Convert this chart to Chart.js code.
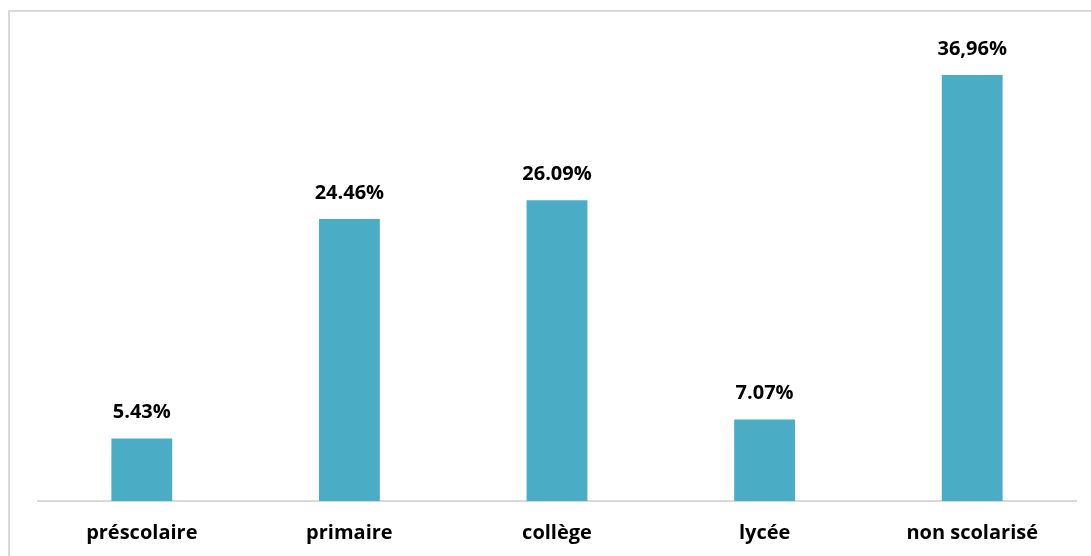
<html lang="fr">
<head>
  <meta charset="UTF-8">
  <title>Niveau scolaire</title>
  <script src="https://cdn.jsdelivr.net/npm/chart.js"></script>
  <style>
    body { margin: 0; background: #fff; overflow: hidden; }
    #frame { position: absolute; left: 8px; top: 10px; width: 1100px; height: 560px; border: 2px solid #d9d9d9; }
    #wrap { position: absolute; left: 0; top: 0; width: 1091px; height: 556px; }
  </style>
  <script>
    const categories = ['préscolaire', 'primaire', 'collège', 'lycée', 'non scolarisé']
    const values = [5.43, 24.46, 26.09, 7.07, 36.96]
    const valueLabels = ['5.43%', '24.46%', '26.09%', '7.07%', '36,96%']

    const labelFont = 'bold 20px "Open Sans", sans-serif'

    const barLabels = {
      id: 'barLabels',
      afterDatasetsDraw(chart) {
        const ctx = chart.ctx
        const meta = chart.getDatasetMeta(0)
        ctx.save()
        ctx.font = labelFont
        ctx.fillStyle = '#000'
        ctx.textAlign = 'center'
        ctx.textBaseline = 'middle'
        meta.data.forEach((bar, i) => {
          ctx.fillText(valueLabels[i], bar.x, bar.y - 26)
        })
        ctx.restore()
      }
    }

    window.onload = () => {
      const chart = document.getElementById('chart')
      new Chart(chart, {
        type: 'bar',
        data: {
          labels: categories,
          datasets: [{
            data: values,
            backgroundColor: '#4bacc6',
            barPercentage: 0.293,
            categoryPercentage: 1
          }]
        },
        options: {
          responsive: false,
          animation: false,
          layout: { padding: { top: 40, left: 38, right: 15, bottom: 0 } },
          plugins: { legend: { display: false }, tooltip: { enabled: false } },
          scales: {
            x: {
              grid: { display: false, drawTicks: false },
              border: { display: true, color: '#d9d9d9', width: 2 },
              ticks: { color: '#000', font: { family: 'Open Sans', size: 20, weight: 'bold' }, padding: 20 },
              afterFit(scale) { scale.height = 55 }
            },
            y: {
              display: false,
              min: 0,
              max: 40
            }
          }
        },
        plugins: [barLabels]
      })
    }
  </script>
</head>
<body>
  <div id="frame"></div>
  <div id="wrap">
    <canvas id="chart" width="1091" height="556"></canvas>
  </div>
</body>
</html>
